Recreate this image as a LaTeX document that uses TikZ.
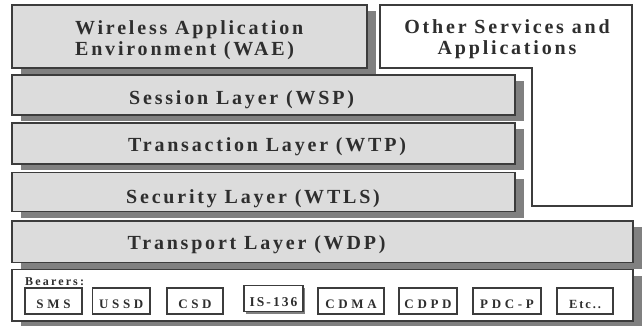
\documentclass[tikz,border=0pt]{standalone}
\usepackage{fontspec}
\setmainfont{Liberation Serif}
\newfontfamily\layerfont[LetterSpace=14]{Liberation Serif}
\newfontfamily\bearfont[LetterSpace=28]{Liberation Serif}
\newfontfamily\bearlabfont[LetterSpace=18]{Liberation Serif}
\newfontfamily\narrowfont[LetterSpace=15]{Liberation Serif}
\usetikzlibrary{shadows}
\definecolor{layerfill}{HTML}{DCDCDC}
\definecolor{shadowgray}{HTML}{808080}
\definecolor{edgegray}{HTML}{3C3C3C}
\definecolor{ink}{HTML}{2E2E2E}
\begin{document}
\begin{tikzpicture}[x=1pt,y=-1pt,
  layer/.style={draw=edgegray, line width=1.4pt, fill=layerfill, inner sep=0pt, outer sep=0pt,
    general shadow={shadow xshift=9pt, shadow yshift=-6pt, fill=shadowgray}},
  layerlabel/.style={anchor=base west, inner sep=0pt, text=ink, font=\layerfont\bfseries\fontsize{20}{21}\selectfont},
  bearer/.style={draw=edgegray, line width=1.2pt, fill=white, inner sep=0pt, outer sep=0pt,
    minimum height=26pt, text height=15pt, text depth=0pt, text=ink,
    font=\bearfont\bfseries\fontsize{13}{14}\selectfont}
]
\useasboundingbox (0,0) rectangle (644,325);
\fill[white] (0,0) rectangle (644,325);

% other services (L shape)
\draw[draw=edgegray, line width=1.2pt, fill=white] (380,5) -- (632,5) -- (632,206) -- (532,206) -- (532,68) -- (380,68) -- cycle;
\node[anchor=base, inner sep=0pt, align=center, text=ink, font=\layerfont\bfseries\fontsize{20}{20.5}\selectfont] (other) at (507,54.3) {Other Services and\\Applications};

% layers
\node[layer, minimum width=355pt, minimum height=63pt] (wae) at (189.5,36.5) {};
\node[layer, minimum width=503pt, minimum height=40pt] (wsp) at (263.5,95) {};
\node[layer, minimum width=503pt, minimum height=41pt] (wtp) at (263.5,143.5) {};
\node[layer, minimum width=503pt, minimum height=39pt] (wtls) at (263.5,192) {};
\node[layer, minimum width=621pt, minimum height=41.5pt] (wdp) at (322.5,241.75) {};
\node[layer, fill=white, minimum width=621pt, minimum height=51.5pt] (bearers) at (322.5,295.25) {};

\node[layerlabel, align=left] (waetext) at (75,55.5) {Wireless Application\\Environment (WAE)};
\node[layerlabel] (wsptext) at (129,104.5) {Session Layer (WSP)};
\node[layerlabel] (wtptext) at (128,151.5) {Transaction Layer (WTP)};
\node[layerlabel] (wtlstext) at (126,203) {Security Layer (WTLS)};
\node[layerlabel] (wdptext) at (127.5,249) {Transport Layer (WDP)};

% bearers
\node[anchor=base west, inner sep=0pt, text=ink, font=\bearlabfont\bfseries\fontsize{12}{13}\selectfont] (bearerslabel) at (25,285.3) {Bearers:};
\node[bearer, minimum width=57pt] (sms) at (53.5,301) {SMS};
\node[bearer, minimum width=57.5pt] (ussd) at (121.25,301) {USSD};
\node[bearer, minimum width=56pt] (csd) at (195,301) {CSD};
\node[bearer, minimum width=59pt, font=\narrowfont\bfseries\fontsize{13.5}{15}\selectfont,
  general shadow={shadow xshift=2pt, shadow yshift=-2pt, fill=shadowgray}] (is136) at (273.5,298.7) {IS-136};
\node[bearer, minimum width=66pt] (cdma) at (351,301) {CDMA};
\node[bearer, minimum width=58pt] (cdpd) at (428,301) {CDPD};
\node[bearer, minimum width=68pt] (pdcp) at (507,301) {PDC-P};
\node[bearer, minimum width=56pt, font=\narrowfont\bfseries\fontsize{12.5}{14}\selectfont] (etc) at (585,301) {Etc..};
\end{tikzpicture}
\end{document}
